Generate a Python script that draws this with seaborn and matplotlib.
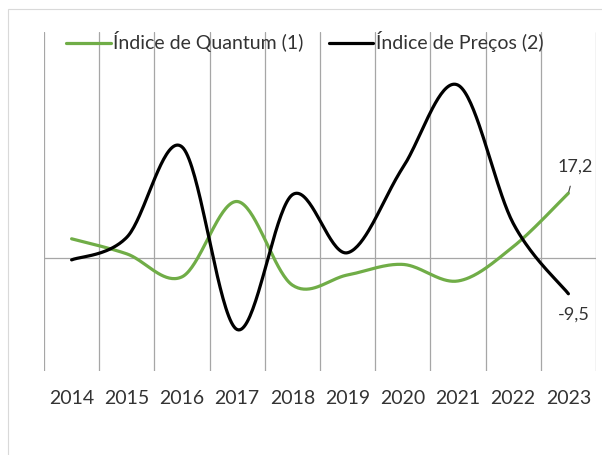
import matplotlib
matplotlib.use("Agg")
import matplotlib.pyplot as plt
from matplotlib.patches import Rectangle
import numpy as np
import pandas as pd
import seaborn as sns

years = ["2014", "2015", "2016", "2017", "2018", "2019", "2020", "2021", "2022", "2023"]
quantum = [5.1, 1.1, -5.0, 15.0, -7.2, -4.5, -1.7, -6.1, 3.0, 17.2]
precos = [-0.5, 5.5, 29.5, -19.0, 16.8, 1.4, 24.0, 45.9, 9.2, -9.5]

label_quantum = "Índice de Quantum (1)"
label_precos = "Índice de Preços (2)"
green = "#70ad47"
grid_color = "#a6a6a6"
text_color = "#333333"


def smooth_curve(y, steps=40):
    """
    Excel style smoothed line: cubic Bezier between points,
    control points from the neighbours (tension 1/6).
    """
    pts = np.column_stack([np.arange(len(y), dtype=float), np.asarray(y, dtype=float)])
    padded = np.vstack([pts[0], pts, pts[-1]])
    t = np.linspace(0, 1, steps)[:, None]
    out = []
    for i in range(len(pts) - 1):
        p0, p3 = pts[i], pts[i + 1]
        c1 = p0 + (padded[i + 2] - padded[i]) / 6.0
        c2 = p3 - (padded[i + 3] - padded[i + 1]) / 6.0
        seg = ((1 - t) ** 3) * p0 + 3 * ((1 - t) ** 2) * t * c1 + 3 * (1 - t) * t ** 2 * c2 + t ** 3 * p3
        out.append(seg if i == 0 else seg[1:])
    return np.vstack(out)


frames = []
for name, values in [(label_quantum, quantum), (label_precos, precos)]:
    curve = smooth_curve(values)
    frames.append(pd.DataFrame({"x": curve[:, 0], "y": curve[:, 1], "serie": name}))
df = pd.concat(frames, ignore_index=True)

sns.set_style("white")
plt.rcParams["font.family"] = ["Lato", "DejaVu Sans"]

fig = plt.figure(figsize=(6.02, 4.55), dpi=100)
ax = fig.add_axes([44 / 602, 1 - 371 / 455, 552 / 602, 339 / 455])
ax.patch.set_alpha(0)

# vertical grid between categories + zero line
ax.set_xticks(np.arange(-0.5, len(years)), minor=True)
ax.grid(which="minor", axis="x", color=grid_color, linewidth=0.9)
ax.axhline(0, color=grid_color, linewidth=0.9, zorder=1)

sns.lineplot(data=df, x="x", y="y", hue="serie", sort=False, estimator=None,
             palette={label_quantum: green, label_precos: "black"},
             linewidth=2.3, ax=ax, legend=False, zorder=3)

ax.set_xlim(-0.5, len(years) - 0.5)
ax.set_ylim(-30, 60)
ax.set_xticks(range(len(years)))
ax.set_xticklabels(years, fontsize=14, color=text_color)
ax.tick_params(axis="x", which="both", length=0, pad=14)
ax.set_yticks([])
ax.set_xlabel("")
ax.set_ylabel("")
for s in ax.spines.values():
    s.set_visible(False)

# end labels
last = len(years) - 1
ax.annotate(f"{quantum[-1]:.1f}".replace(".", ","), xy=(last, quantum[-1]),
            xytext=(5, 19), textcoords="offset points", ha="center", va="center",
            fontsize=13, color=text_color,
            arrowprops=dict(arrowstyle="-", color="#404040", lw=0.8, shrinkA=6, shrinkB=1))
ax.annotate(f"{precos[-1]:.1f}".replace(".", ","), xy=(last, precos[-1]),
            xytext=(3.6, -15), textcoords="offset points", ha="center", va="center",
            fontsize=13, color=text_color)

# legend
handles = [plt.Line2D([], [], color=green, linewidth=2.3),
           plt.Line2D([], [], color="black", linewidth=2.3)]
fig.legend(handles, [label_quantum, label_precos], loc="center left",
           bbox_to_anchor=(66 / 602, 1 - 42 / 455), ncol=2, frameon=False,
           fontsize=14, handlelength=2.3, handletextpad=0.12, columnspacing=1.3,
           borderpad=0, borderaxespad=0, labelcolor=text_color)

# chart area border
fig.patches.append(Rectangle((7.5 / 602, -0.1), 1.0, 1.1 - 9.5 / 455, transform=fig.transFigure,
                             fill=False, edgecolor="#d9d9d9", linewidth=0.8))

fig.savefig("out.png", dpi=100)
